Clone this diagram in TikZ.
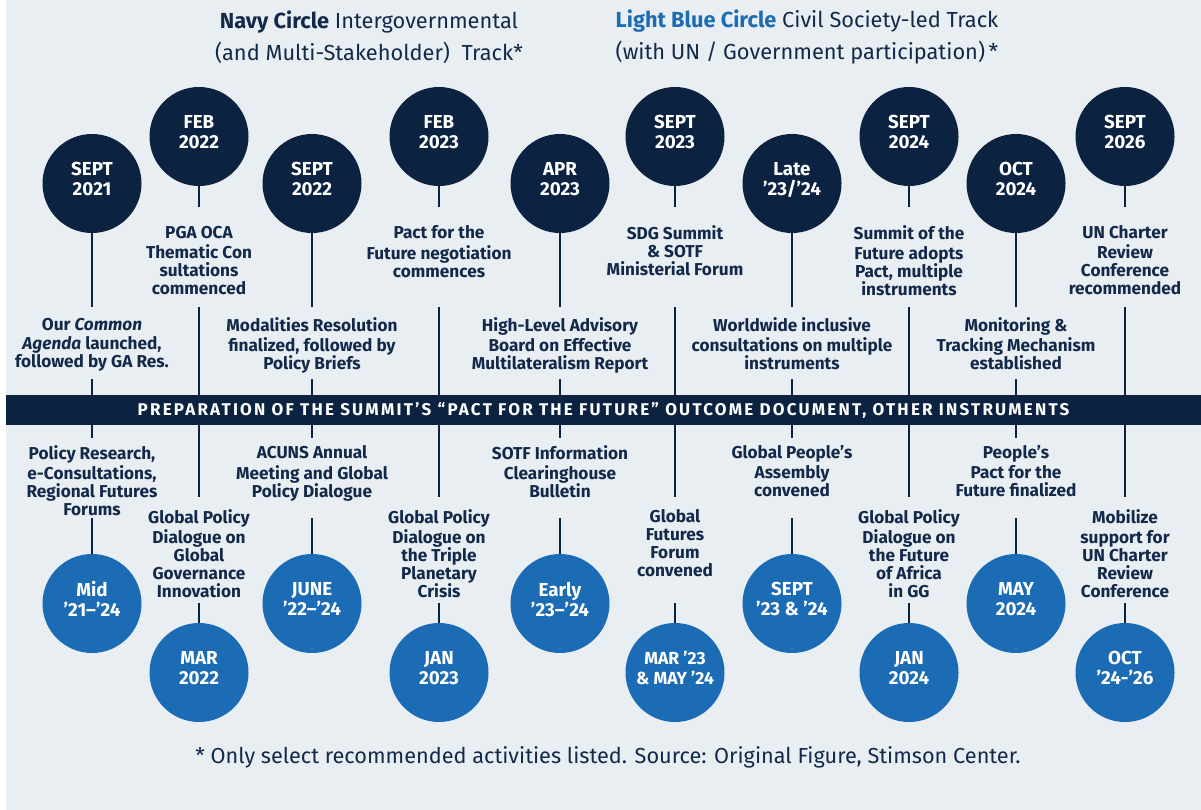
\documentclass[tikz,border=0pt]{standalone}
\usepackage{fontspec}
\setmainfont{Fira Sans}
\definecolor{navy}{HTML}{0B2341}
\definecolor{lblue}{HTML}{1B6CB5}
\definecolor{bgc}{HTML}{E9EEF3}
\definecolor{txt}{HTML}{12294A}
\newcommand\lbox[4]{\parbox[c][#1][t]{#2}{\centering\vspace*{#3}\strut #4\strut}}
\newcommand\thigh[1]{\lbox{100pt}{200pt}{18.4pt}{#1}}
\newcommand\tlow[1]{\lbox{72pt}{220pt}{10.4pt}{#1}}
\newcommand\uup[1]{\lbox{80pt}{200pt}{7.4pt}{#1}}
\newcommand\ulow[1]{\lbox{106pt}{200pt}{12.4pt}{#1}}
\tikzset{
  dot/.style={circle, inner sep=0pt, minimum size=99pt, align=center, text=white,
    font=\bfseries\fontsize{18.8}{20}\selectfont,
    execute at end node={\rule[-9pt]{0pt}{0pt}}},
  navydot/.style={dot, fill=navy},
  bluedot/.style={dot, fill=lblue},
  lbl/.style={inner sep=0pt, anchor=north, text=txt, font=\bfseries\fontsize{17.2}{18}\selectfont},
  stem/.style={draw=navy, line width=2.2pt},
}
\begin{document}
\begin{tikzpicture}[x=1pt, y=-1pt]
\useasboundingbox (0,0) rectangle (1201,810);
\fill[bgc] (6,0) rectangle (1201,810);

% titles
\node[font=\fontsize{21.8}{32}\selectfont, text=txt, align=center] (tn) at (369,37)
  {\textbf{Navy Circle} Intergovernmental\\(and Multi-Stakeholder)\ \ Track*};
\node[font=\fontsize{21.8}{32}\selectfont, text=txt, align=center] (tl) at (807,37)
  {\textcolor{lblue}{\textbf{Light Blue Circle}} Civil Society-led Track\\(with UN / Government participation)\,*};

% column 1
\node[navydot] (n1) at (92,183.5) {SEPT\\2021};
\node[lbl] (t1) at (92,307) {\tlow{Our \textit{Common}\\\textit{Agenda} launched,\\followed by GA Res.}};
\node[lbl] (u1) at (92,438) {\uup{Policy Research,\\e-Consultations,\\Regional Futures\\Forums}};
\node[bluedot] (b1) at (92,603.5) {Mid\\’21–’24};
% column 2
\node[navydot] (n2) at (199,136.5) {FEB\\2022};
\node[lbl] (t2) at (199,207) {\thigh{PGA OCA\\Thematic Con\\sultations\\commenced}};
\node[lbl] (u2) at (199,497) {\ulow{Global Policy\\Dialogue on\\Global\\Governance\\Innovation}};
\node[bluedot] (b2) at (199,672.5) {MAR\\2022};
% column 3
\node[navydot] (n3) at (312,183.5) {SEPT\\2022};
\node[lbl] (t3) at (312,307) {\tlow{Modalities Resolution\\finalized, followed by\\Policy Briefs}};
\node[lbl] (u3) at (312,438) {\uup{ACUNS Annual\\Meeting and Global\\Policy Dialogue}};
\node[bluedot] (b3) at (312,603.5) {JUNE\\’22–’24};
% column 4
\node[navydot] (n4) at (439,136.5) {FEB\\2023};
\node[lbl] (t4) at (439,207) {\thigh{Pact for the\\Future negotiation\\commences}};
\node[lbl] (u4) at (439,497) {\ulow{Global Policy\\Dialogue on\\the Triple\\Planetary\\Crisis}};
\node[bluedot] (b4) at (439,672.5) {JAN\\2023};
% column 5
\node[navydot] (n5) at (560,183.5) {APR\\2023};
\node[lbl] (t5) at (560,307) {\tlow{High-Level Advisory\\Board on Effective\\Multilateralism Report}};
\node[lbl] (u5) at (560,438) {\uup{SOTF Information\\Clearinghouse\\Bulletin}};
\node[bluedot] (b5) at (560,603.5) {Early\\’23–’24};
% column 6
\node[navydot] (n6) at (675,136.5) {SEPT\\2023};
\node[lbl] (t6) at (675,207) {\thigh{SDG Summit\\\& SOTF\\Ministerial Forum}};
\node[lbl] (u6) at (675,497) {\ulow{Global\\Futures\\Forum\\convened}};
\node[bluedot, font=\bfseries\fontsize{17.5}{20}\selectfont] (b6) at (675,672.5) {MAR ’23\\\& MAY ’24};
% column 7
\node[navydot] (n7) at (792,183.5) {Late\\’23/’24};
\node[lbl] (t7) at (792,307) {\tlow{Worldwide inclusive\\consultations on multiple\\instruments}};
\node[lbl] (u7) at (792,438) {\uup{Global People’s\\Assembly\\convened}};
\node[bluedot] (b7) at (792,603.5) {SEPT\\’23 \& ’24};
% column 8
\node[navydot] (n8) at (909,136.5) {SEPT\\2024};
\node[lbl] (t8) at (909,207) {\thigh{Summit of the\\Future adopts\\Pact, multiple\\instruments}};
\node[lbl] (u8) at (909,497) {\ulow{Global Policy\\Dialogue on\\the Future\\of Africa\\in GG}};
\node[bluedot] (b8) at (909,672.5) {JAN\\2024};
% column 9
\node[navydot] (n9) at (1016,183.5) {OCT\\2024};
\node[lbl] (t9) at (1016,307) {\tlow{Monitoring \&\\Tracking Mechanism\\established}};
\node[lbl] (u9) at (1016,438) {\uup{People’s\\Pact for the\\Future finalized}};
\node[bluedot] (b9) at (1016,603.5) {MAY\\2024};
% column 10
\node[navydot] (n10) at (1125,136.5) {SEPT\\2026};
\node[lbl] (t10) at (1125,207) {\thigh{UN Charter\\Review\\Conference\\recommended}};
\node[lbl] (u10) at (1125,497) {\ulow{Mobilize\\support for\\UN Charter\\Review\\Conference}};
\node[bluedot] (b10) at (1125,672.5) {OCT\\’24-’26};

% stems
\foreach \i in {1,...,10}{
  \draw[stem] (n\i) -- (t\i);
  \draw[stem] (t\i) -- (u\i);
  \draw[stem] (u\i) -- (b\i);
}

% bar
\node[fill=navy, minimum width=1195pt, minimum height=30pt, inner sep=0pt, text=white,
  font=\bfseries\fontsize{17}{18}\selectfont\addfontfeatures{LetterSpace=13}] (bar) at (603.5,410)
  {PREPARATION OF THE SUMMIT’S “PACT FOR THE FUTURE” OUTCOME DOCUMENT, OTHER INSTRUMENTS};

% footer
\node[font=\fontsize{21.7}{22}\selectfont, text=txt] (ft) at (608,757)
  {* Only select recommended activities listed. Source: Original Figure, Stimson Center.};
\end{tikzpicture}
\end{document}
